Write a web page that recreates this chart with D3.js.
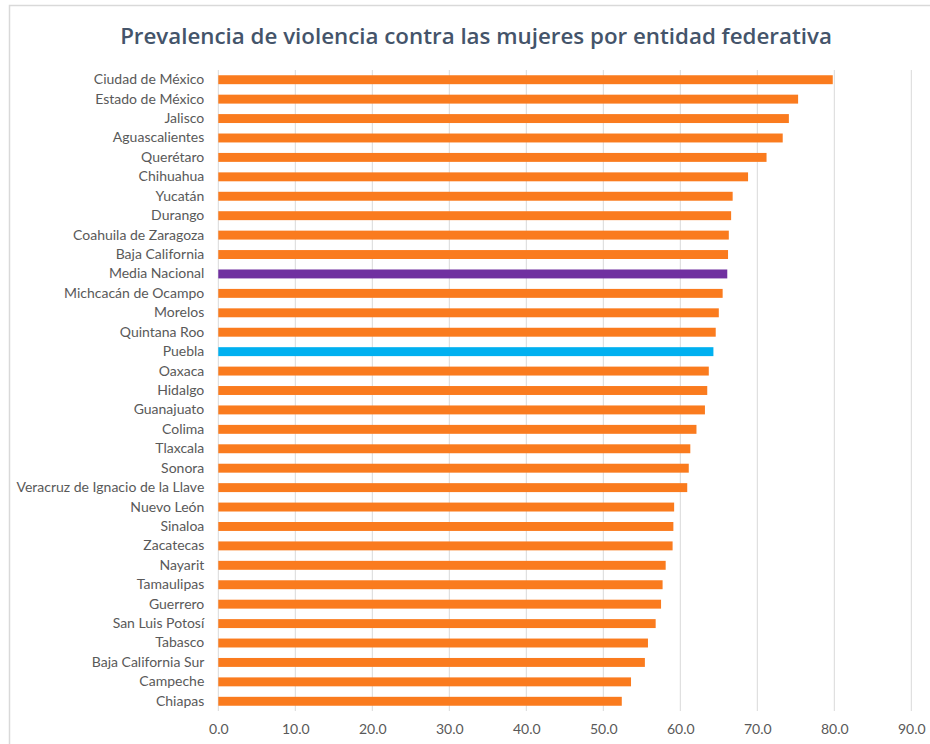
<!DOCTYPE html>
<html>
<head>
<meta charset="utf-8">
<script src="https://cdn.jsdelivr.net/npm/d3@7"></script>
<style>
  html, body { margin: 0; padding: 0; background: #fff; }
  svg { display: block; }
</style>
</head>
<body>
<svg id="chart" width="930" height="744"></svg>
<script>
const titleText = "Prevalencia de violencia contra las mujeres por entidad federativa";

const categories = [
  "Ciudad de México", "Estado de México", "Jalisco", "Aguascalientes", "Querétaro",
  "Chihuahua", "Yucatán", "Durango", "Coahuila de Zaragoza", "Baja California",
  "Media Nacional", "Michcacán de Ocampo", "Morelos", "Quintana Roo", "Puebla",
  "Oaxaca", "Hidalgo", "Guanajuato", "Colima", "Tlaxcala", "Sonora",
  "Veracruz de Ignacio de la Llave", "Nuevo León", "Sinaloa", "Zacatecas", "Nayarit",
  "Tamaulipas", "Guerrero", "San Luis Potosí", "Tabasco", "Baja California Sur",
  "Campeche", "Chiapas"
];

const values = [
  79.8, 75.3, 74.1, 73.3, 71.2,
  68.8, 66.8, 66.6, 66.3, 66.2,
  66.1, 65.5, 65.0, 64.6, 64.3,
  63.7, 63.5, 63.2, 62.1, 61.3, 61.1,
  60.9, 59.2, 59.1, 59.0, 58.1,
  57.7, 57.5, 56.8, 55.8, 55.4,
  53.6, 52.4
];

const highlight = { "Media Nacional": "#7030A0", "Puebla": "#00B0F0" };
const baseColor = "#FA7B1E";

const tickValues = [0, 10, 20, 30, 40, 50, 60, 70, 80, 90];

const data = categories.map((c, i) => ({ name: c, value: values[i] }));

const svg = d3.select("#chart");
const W = 930, H = 744;
const plot = { left: 218.3, right: 911.3, top: 70, bottom: 711 };

// frame
svg.append("path")
  .attr("d", `M9.5,${H} L9.5,5.5 L${W},5.5`)
  .attr("fill", "none")
  .attr("stroke", "#D9D9D9")
  .attr("stroke-width", 1.5);

const x = d3.scaleLinear().domain([0, 90]).range([plot.left, plot.right]);
const y = d3.scaleBand().domain(categories).range([plot.top, plot.bottom]).paddingInner(0.54).paddingOuter(0.27);

// gridlines
svg.append("g")
  .selectAll("line")
  .data(tickValues)
  .join("line")
  .attr("x1", d => x(d)).attr("x2", d => x(d))
  .attr("y1", plot.top).attr("y2", plot.bottom)
  .attr("stroke", "#D9D9D9")
  .attr("stroke-width", 1);

// bars
svg.append("g")
  .selectAll("rect")
  .data(data)
  .join("rect")
  .attr("x", x(0))
  .attr("y", d => y(d.name))
  .attr("width", d => x(d.value) - x(0))
  .attr("height", y.bandwidth())
  .attr("fill", d => highlight[d.name] || baseColor);

// y axis labels
const yAxis = d3.axisLeft(y).tickSize(0).tickPadding(14);
const gy = svg.append("g").attr("transform", `translate(${plot.left},0)`).call(yAxis);
gy.select(".domain").remove();
gy.selectAll("text")
  .attr("fill", "#595959")
  .style("font-family", "Lato, 'Open Sans', sans-serif")
  .style("font-size", "14px");

// x axis labels
const xAxis = d3.axisBottom(x).tickValues(tickValues).tickFormat(d3.format(".1f")).tickSize(0).tickPadding(13);
const gx = svg.append("g").attr("transform", `translate(0,${plot.bottom})`).call(xAxis);
gx.select(".domain").remove();
gx.selectAll("text")
  .attr("fill", "#595959")
  .style("font-family", "Lato, 'Open Sans', sans-serif")
  .style("font-size", "14px");

// title
const t = svg.append("text")
  .attr("x", 476)
  .attr("y", 44)
  .attr("text-anchor", "middle")
  .attr("fill", "#44546A")
  .style("font-family", "'Open Sans', sans-serif")
  .style("font-weight", "600")
  .style("font-size", "22px")
  .text(titleText);
const len = t.node().getComputedTextLength();
const targetLen = 712;
t.style("font-size", (22 * targetLen / len).toFixed(2) + "px");
</script>
</body>
</html>
